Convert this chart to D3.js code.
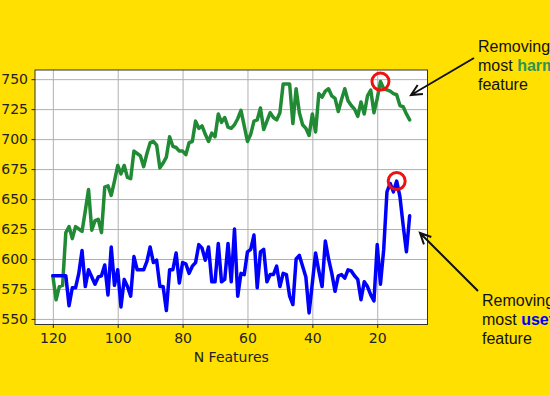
<!DOCTYPE html>
<html>
<head>
<meta charset="utf-8">
<script src="https://cdn.jsdelivr.net/npm/d3@7"></script>
<style>
  html, body { margin: 0; padding: 0; background: #ffe000; }
  svg { display: block; }
</style>
</head>
<body>
<script>
// x values: number of features kept, 120 down to 10
const nFeatures = d3.range(120, 9, -1);

// removing the most harmful feature each step (green)
const harmfulScores = [
  586, 566, 577, 578, 622, 627, 617, 627, 625, 623,
  640, 658, 624, 632, 633, 622, 660, 661, 653, 665,
  678, 671, 678, 668, 667, 690, 688, 686, 677, 688,
  697, 698, 695, 676, 680, 685, 702, 694, 693, 690,
  690, 687, 697, 698, 715, 709, 711, 704, 698, 705,
  702, 721, 714, 718, 710, 709, 712, 717, 724, 711,
  698, 704, 715, 716, 726, 708, 715, 722, 718, 716,
  722, 746, 746, 746, 713, 742, 722, 712, 709, 703,
  721, 706, 738, 735, 740, 742, 736, 734, 723, 733,
  742, 732, 728, 725, 719, 731, 721, 736, 741, 722,
  734, 748, 742, 741, 740, 738, 737, 728, 727, 721, 716,
];

// removing the most useful feature each step (blue)
const usefulScores = [
  586, 586, 586, 586, 586, 561, 576, 576, 588, 607,
  577, 591, 585, 579, 585, 586, 595, 570, 610, 578,
  591, 560, 583, 577, 569, 602, 591, 591, 591, 598,
  610, 597, 599, 577, 577, 557, 591, 591, 605, 580,
  597, 596, 588, 594, 597, 612, 609, 599, 610, 581,
  581, 613, 581, 583, 613, 581, 625, 569, 588, 587,
  606, 608, 620, 576, 606, 608, 581, 587, 587, 594,
  577, 588, 587, 569, 562, 600, 603, 594, 585, 555,
  580, 605, 590, 577, 615, 600, 588, 573, 586, 587,
  584, 591, 590, 586, 583, 566, 581, 577, 570, 565,
  612, 579, 608, 656, 663, 656, 665, 652, 628, 606, 636,
];

const xTicks = [120, 100, 80, 60, 40, 20];
const yTicks = [550, 575, 600, 625, 650, 675, 700, 725, 750];

// points that get a red ring
const ringed = [
  { n: 19, value: 748 },
  { n: 14, value: 665 },
];

const baseWidth = 550,
  baseHeight = 395;
const margin = { top: 70, right: 122.5, bottom: 70.5, left: 35 };
const width = baseWidth - margin.left - margin.right;
const height = baseHeight - margin.top - margin.bottom;

const green = "#218a34",
  blue = "#0000ff",
  ink = "#222222";

// matplotlib style 5% padding
function padded(ext) {
  const pad = (ext[1] - ext[0]) * 0.05;
  return [ext[0] - pad, ext[1] + pad];
}

const xExt = padded(d3.extent(nFeatures));
const x = d3.scaleLinear().domain([xExt[1], xExt[0]]).range([0, width]);

const yExt = padded(d3.extent(harmfulScores.concat(usefulScores)));
const y = d3.scaleLinear().domain(yExt).range([height, 0]);

const svg = d3
  .select("body")
  .append("svg")
  .attr("width", baseWidth)
  .attr("height", baseHeight);

svg
  .append("rect")
  .attr("width", baseWidth)
  .attr("height", baseHeight)
  .attr("fill", "#ffe000");

const chart = svg
  .append("g")
  .attr("transform", "translate(" + margin.left + "," + margin.top + ")");

chart
  .append("rect")
  .attr("width", width)
  .attr("height", height)
  .attr("fill", "#ffffff");

// grid
chart
  .append("g")
  .attr("transform", "translate(0," + height + ")")
  .call(d3.axisBottom(x).tickValues(xTicks).tickSize(-height).tickFormat(""))
  .call((g) => g.select(".domain").remove())
  .call((g) => g.selectAll("line").attr("stroke", "#b0b0b0").attr("stroke-width", 1));

chart
  .append("g")
  .call(d3.axisLeft(y).tickValues(yTicks).tickSize(-width).tickFormat(""))
  .call((g) => g.select(".domain").remove())
  .call((g) => g.selectAll("line").attr("stroke", "#b0b0b0").attr("stroke-width", 1));

// lines
const line = (vals) =>
  d3
    .line()
    .x((d, i) => x(nFeatures[i]))
    .y((d) => y(d))(vals);

chart
  .append("path")
  .attr("d", line(harmfulScores))
  .attr("fill", "none")
  .attr("stroke", green)
  .attr("stroke-width", 3.5)
  .attr("stroke-linejoin", "round")
  .attr("stroke-linecap", "round");

chart
  .append("path")
  .attr("d", line(usefulScores))
  .attr("fill", "none")
  .attr("stroke", blue)
  .attr("stroke-width", 3.5)
  .attr("stroke-linejoin", "round")
  .attr("stroke-linecap", "round");

chart
  .selectAll(".ring")
  .data(ringed)
  .enter()
  .append("circle")
  .attr("class", "ring")
  .attr("cx", (d) => x(d.n))
  .attr("cy", (d) => y(d.value))
  .attr("r", 8.5)
  .attr("fill", "none")
  .attr("stroke", "#ee1111")
  .attr("stroke-width", 3);

// frame
chart
  .append("rect")
  .attr("width", width)
  .attr("height", height)
  .attr("fill", "none")
  .attr("stroke", "#333333")
  .attr("stroke-width", 1);

// axes
const xAxis = chart
  .append("g")
  .attr("transform", "translate(0," + height + ")")
  .call(d3.axisBottom(x).tickValues(xTicks).tickSize(3.5).tickPadding(5))
  .call((g) => g.select(".domain").remove());
xAxis.selectAll("line").attr("stroke", ink);
xAxis
  .selectAll("text")
  .attr("fill", ink)
  .style("font-family", "DejaVu Sans")
  .style("font-size", "14px");

const yAxis = chart
  .append("g")
  .call(d3.axisLeft(y).tickValues(yTicks).tickSize(3.5).tickPadding(3.5))
  .call((g) => g.select(".domain").remove());
yAxis.selectAll("line").attr("stroke", ink);
yAxis
  .selectAll("text")
  .attr("fill", ink)
  .style("font-family", "DejaVu Sans")
  .style("font-size", "14px");

chart
  .append("text")
  .attr("x", width / 2)
  .attr("y", height + 37.5)
  .attr("text-anchor", "middle")
  .attr("fill", ink)
  .style("font-family", "DejaVu Sans")
  .style("font-size", "14px")
  .text("N Features");

// annotations (text runs off the right edge, as in the original)
const notes = [
  { x: 478, y: 52, word: "harmful", color: "#2e9457", from: [474, 58], to: [411, 95] },
  { x: 482, y: 306, word: "useful", color: blue, from: [478, 291], to: [420, 233] },
];

notes.forEach((a) => {
  const t = svg
    .append("text")
    .attr("fill", "#111111")
    .style("font-family", "Liberation Sans, Arial, sans-serif")
    .style("font-size", "16px");
  t.append("tspan").attr("x", a.x).attr("y", a.y).text("Removing");
  const l2 = t.append("tspan").attr("x", a.x).attr("y", a.y + 19);
  l2.append("tspan").text("most ");
  l2.append("tspan").attr("fill", a.color).style("font-weight", "bold").text(a.word);
  t.append("tspan").attr("x", a.x).attr("y", a.y + 38).text("feature");

  // arrow with open head
  const [x0, y0] = a.from,
    [x1, y1] = a.to;
  const ang = Math.atan2(y0 - y1, x0 - x1);
  const hl = 12,
    hw = 0.45;
  const p1 = [x1 + hl * Math.cos(ang + hw), y1 + hl * Math.sin(ang + hw)];
  const p2 = [x1 + hl * Math.cos(ang - hw), y1 + hl * Math.sin(ang - hw)];
  svg
    .append("path")
    .attr("d", "M" + x0 + "," + y0 + "L" + x1 + "," + y1 + "M" + p1 + "L" + x1 + "," + y1 + "L" + p2)
    .attr("fill", "none")
    .attr("stroke", "#111111")
    .attr("stroke-width", 2);
});
</script>
</body>
</html>
